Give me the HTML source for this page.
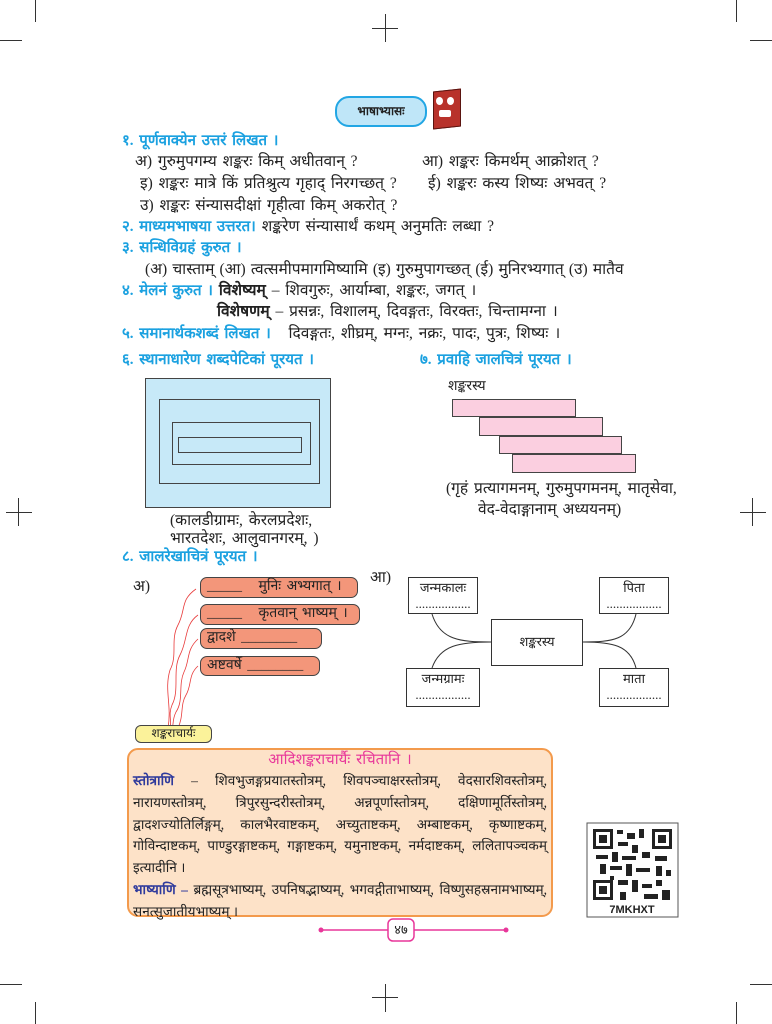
<!DOCTYPE html>
<html><head><meta charset="utf-8">
<style>
*{margin:0;padding:0;box-sizing:border-box}
body{width:772px;height:1024px;background:#fff;position:relative;overflow:hidden;font-family:"Liberation Serif","Noto Sans CJK SC",serif;color:#222;font-size:15.5px;word-spacing:2px}
.a{position:absolute;white-space:nowrap;line-height:1}
.h{color:#1ba1e0;font-weight:bold;font-size:15px}
.b{font-weight:bold}
.ln{position:absolute;background:#333}
.sal{position:absolute;background:#f3967a;border:1.5px solid #444;border-radius:7px;font-size:14px;padding-left:6px;line-height:18px}
.bx{position:absolute;border:1.5px solid #333;background:#fff;font-size:13px;text-align:center;word-spacing:0}
.j{text-align:justify;text-align-last:justify;white-space:nowrap;height:21.8px;line-height:21.8px}
</style></head><body>
<div class="ln" style="left:385px;top:14px;width:1px;height:28px"></div>
<div class="ln" style="left:372px;top:28px;width:26px;height:1px"></div>
<div class="ln" style="left:385px;top:984px;width:1px;height:28px"></div>
<div class="ln" style="left:372px;top:997px;width:26px;height:1px"></div>
<div class="ln" style="left:18px;top:498px;width:1px;height:28px"></div>
<div class="ln" style="left:6px;top:512px;width:26px;height:1px"></div>
<div class="ln" style="left:752px;top:498px;width:1px;height:28px"></div>
<div class="ln" style="left:740px;top:512px;width:26px;height:1px"></div>
<div class="ln" style="left:35px;top:0;width:1px;height:22px"></div>
<div class="ln" style="left:0;top:40px;width:22px;height:1px"></div>
<div class="ln" style="left:736px;top:0;width:1px;height:22px"></div>
<div class="ln" style="left:750px;top:40px;width:22px;height:1px"></div>
<div class="ln" style="left:35px;top:1002px;width:1px;height:22px"></div>
<div class="ln" style="left:0;top:984px;width:22px;height:1px"></div>
<div class="ln" style="left:736px;top:1002px;width:1px;height:22px"></div>
<div class="ln" style="left:750px;top:984px;width:22px;height:1px"></div>

<div class="a b" style="left:335px;top:96px;width:92px;height:31px;border:2px solid #22a6e4;background:#bfe6f8;border-radius:14px;font-size:12px;text-align:center;line-height:27px">भाषाभ्यासः</div>
<div style="position:absolute;left:433px;top:90px;width:28px;height:38px;background:#b8322b;border:1px solid #5a1410;transform:skewY(-6deg)"></div>
<div style="position:absolute;left:436px;top:97px;width:7px;height:8px;background:#fff;border-radius:50%"></div>
<div style="position:absolute;left:447px;top:97px;width:7px;height:8px;background:#fff;border-radius:50%"></div>
<div style="position:absolute;left:439px;top:110px;width:12px;height:7px;background:#fff;border-radius:2px"></div>

<div class="a h" style="left:122px;top:134px">१. पूर्णवाक्येन उत्तरं लिखत ।</div>
<div class="a" style="left:135px;top:154px">अ) गुरुमुपगम्य शङ्करः किम् अधीतवान् ?</div>
<div class="a" style="left:422px;top:154px">आ) शङ्करः किमर्थम् आक्रोशत् ?</div>
<div class="a" style="left:140px;top:176px">इ) शङ्करः मात्रे किं प्रतिश्रुत्य गृहाद् निरगच्छत् ?</div>
<div class="a" style="left:428px;top:176px">ई) शङ्करः कस्य शिष्यः अभवत् ?</div>
<div class="a" style="left:140px;top:198px">उ) शङ्करः संन्यासदीक्षां गृहीत्वा किम् अकरोत् ?</div>
<div class="a" style="left:122px;top:219px"><span class="h">२. माध्यमभाषया उत्तरत।</span> शङ्करेण संन्यासार्थं कथम् अनुमतिः लब्धा ?</div>
<div class="a h" style="left:122px;top:241px">३. सन्धिविग्रहं कुरुत ।</div>
<div class="a" style="left:145px;top:262px;word-spacing:1.3px">(अ) चास्ताम् (आ) त्वत्समीपमागमिष्यामि (इ) गुरुमुपागच्छत् (ई) मुनिरभ्यगात् (उ) मातैव</div>
<div class="a" style="left:122px;top:283px"><span class="h">४. मेलनं कुरुत ।</span> <b>विशेष्यम्</b> – शिवगुरुः, आर्याम्बा, शङ्करः, जगत् ।</div>
<div class="a" style="left:217px;top:304px"><b>विशेषणम्</b> – प्रसन्नः, विशालम्, दिवङ्गतः, विरक्तः, चिन्तामग्ना ।</div>
<div class="a" style="left:122px;top:326px"><span class="h">५. समानार्थकशब्दं लिखत ।</span> &nbsp; दिवङ्गतः, शीघ्रम्, मग्नः, नक्रः, पादः, पुत्रः, शिष्यः ।</div>

<div class="a h" style="left:122px;top:353px">६. स्थानाधारेण शब्दपेटिकां पूरयत ।</div>
<div class="a h" style="left:420px;top:353px">७. प्रवाहि जालचित्रं पूरयत ।</div>

<div style="position:absolute;left:145px;top:378px;width:186px;height:130px;background:#c7e9f8;border:1.5px solid #444"></div>
<div style="position:absolute;left:159px;top:399px;width:161px;height:85px;border:1.5px solid #444"></div>
<div style="position:absolute;left:172px;top:422px;width:139px;height:43px;border:1.5px solid #444"></div>
<div style="position:absolute;left:178px;top:437px;width:124px;height:16px;border:1.5px solid #444"></div>
<div class="a" style="left:170px;top:513px">(कालडीग्रामः, केरलप्रदेशः,</div>
<div class="a" style="left:170px;top:531px">भारतदेशः, आलुवानगरम्, )</div>

<div class="a" style="left:448px;top:380px;font-size:14px">शङ्करस्य</div>
<div style="position:absolute;left:452px;top:399px;width:124px;height:18px;background:#fbcfe0;border:1.5px solid #444"></div>
<div style="position:absolute;left:479px;top:417px;width:124px;height:19px;background:#fbcfe0;border:1.5px solid #444"></div>
<div style="position:absolute;left:499px;top:436px;width:123px;height:18px;background:#fbcfe0;border:1.5px solid #444"></div>
<div style="position:absolute;left:512px;top:454px;width:124px;height:19px;background:#fbcfe0;border:1.5px solid #444"></div>
<div class="a" style="left:446px;top:481px">(गृहं प्रत्यागमनम्, गुरुमुपगमनम्, मातृसेवा,</div>
<div class="a" style="left:478px;top:502px">वेद-वेदाङ्गानाम् अध्ययनम्)</div>

<div class="a h" style="left:122px;top:550px">८. जालरेखाचित्रं पूरयत ।</div>
<div class="a" style="left:133px;top:579px">अ)</div>
<div class="sal" style="left:200px;top:577px;width:158px;height:21px">_____ &nbsp; मुनिः अभ्यगात् ।</div>
<div class="sal" style="left:200px;top:604px;width:160px;height:21px">_____ &nbsp; कृतवान् भाष्यम् ।</div>
<div class="sal" style="left:200px;top:628px;width:122px;height:21px">द्वादशे ________</div>
<div class="sal" style="left:200px;top:656px;width:120px;height:20px">अष्टवर्षे ________</div>
<svg style="position:absolute;left:0;top:0" width="772" height="1024">
<g fill="none" stroke="#e83a3a" stroke-width="0.8">
<path d="M196 589 C180 600 186 610 178 625 C170 640 178 655 170 670 C164 690 172 705 168 728"/>
<path d="M198 615 C184 625 188 640 180 655 C172 670 180 690 172 705 C168 715 172 720 170 728"/>
<path d="M198 639 C186 650 190 660 184 672 C178 685 184 700 176 712 C172 720 174 724 172 728"/>
<path d="M198 666 C188 675 192 685 186 695 C180 705 184 715 178 728"/>
</g>
<g stroke="#333" stroke-width="1" fill="none">
<path d="M432 614 C440 640 460 642 491 642"/>
<path d="M432 668 C440 645 460 642 491 642"/>
<path d="M583 642 C612 642 630 640 636 614"/>
<path d="M583 642 C612 642 630 645 636 668"/>
</g>
<rect x="587" y="823" width="91" height="94" fill="#fff" stroke="#555"/>
<g fill="#222">
<rect x="593" y="829" width="20" height="20"/><rect x="596" y="832" width="14" height="14" fill="#fff"/><rect x="599" y="835" width="8" height="8"/>
<rect x="652" y="829" width="20" height="20"/><rect x="655" y="832" width="14" height="14" fill="#fff"/><rect x="658" y="835" width="8" height="8"/>
<rect x="593" y="880" width="20" height="20"/><rect x="596" y="883" width="14" height="14" fill="#fff"/><rect x="599" y="886" width="8" height="8"/>
<rect x="617" y="830" width="6" height="4"/><rect x="627" y="833" width="8" height="6"/><rect x="639" y="829" width="5" height="9"/><rect x="618" y="842" width="10" height="4"/>
<rect x="632" y="845" width="6" height="8"/><rect x="596" y="855" width="12" height="4"/><rect x="612" y="852" width="6" height="10"/><rect x="622" y="856" width="14" height="4"/>
<rect x="642" y="852" width="8" height="6"/><rect x="655" y="856" width="12" height="5"/><rect x="600" y="864" width="6" height="10"/><rect x="610" y="866" width="12" height="4"/>
<rect x="626" y="864" width="6" height="12"/><rect x="636" y="868" width="14" height="4"/><rect x="656" y="866" width="6" height="10"/><rect x="666" y="870" width="5" height="6"/>
<rect x="618" y="880" width="10" height="5"/><rect x="632" y="880" width="6" height="12"/><rect x="642" y="884" width="10" height="4"/><rect x="656" y="880" width="6" height="6"/>
<rect x="620" y="892" width="6" height="8"/><rect x="644" y="894" width="14" height="5"/><rect x="662" y="890" width="8" height="10"/><rect x="610" y="876" width="4" height="4"/>
</g>
<text x="632" y="913" font-family="Liberation Sans" font-weight="bold" font-size="11" text-anchor="middle" fill="#222">7MKHXT</text>
<line x1="321" y1="930" x2="506" y2="930" stroke="#e8379a" stroke-width="1.5"/>
<circle cx="321" cy="930" r="2.5" fill="#e8379a"/><circle cx="506" cy="930" r="2.5" fill="#e8379a"/>
<rect x="388" y="919" width="26" height="22" rx="5" fill="#fff" stroke="#e8379a" stroke-width="1.5"/>
</svg>
<div class="a" style="left:389px;top:923px;width:24px;text-align:center;font-size:13px">४७</div>

<div class="a" style="left:135px;top:725px;width:77px;height:18px;background:#fbf29a;border:1.5px solid #444;border-radius:6px;font-size:12px;text-align:center;line-height:15px;word-spacing:0">शङ्कराचार्यः</div>

<div class="a" style="left:370px;top:570px">आ)</div>
<div class="bx" style="left:408px;top:577px;width:70px;height:37px">जन्मकालः<br>.................</div>
<div class="bx" style="left:491px;top:619px;width:92px;height:47px;line-height:44px">शङ्करस्य</div>
<div class="bx" style="left:406px;top:668px;width:74px;height:39px">जन्मग्रामः<br>.................</div>
<div class="bx" style="left:599px;top:577px;width:70px;height:37px">पिता<br>.................</div>
<div class="bx" style="left:599px;top:668px;width:70px;height:39px">माता<br>.................</div>

<div style="position:absolute;left:127px;top:748px;width:426px;height:169px;background:#fde2c8;border:2px solid #f39a4c;border-radius:11px"></div>
<div class="a" style="left:127px;top:753px;width:426px;text-align:center;color:#e8379a;font-size:15px">आदिशङ्कराचार्यैः रचितानि ।</div>
<div style="position:absolute;left:133px;top:770px;width:414px;font-size:13.6px;word-spacing:0">
<div class="j"><b style="color:#2f3a9c">स्तोत्राणि</b> – शिवभुजङ्गप्रयातस्तोत्रम्, शिवपञ्चाक्षरस्तोत्रम्, वेदसारशिवस्तोत्रम्,</div>
<div class="j">नारायणस्तोत्रम्, त्रिपुरसुन्दरीस्तोत्रम्, अन्नपूर्णास्तोत्रम्, दक्षिणामूर्तिस्तोत्रम्,</div>
<div class="j">द्वादशज्योतिर्लिङ्गम्, कालभैरवाष्टकम्, अच्युताष्टकम्, अम्बाष्टकम्, कृष्णाष्टकम्,</div>
<div class="j">गोविन्दाष्टकम्, पाण्डुरङ्गाष्टकम्, गङ्गाष्टकम्, यमुनाष्टकम्, नर्मदाष्टकम्, ललितापञ्चकम्</div>
<div style="height:21.8px;line-height:21.8px">इत्यादीनि ।</div>
<div class="j"><b style="color:#2f3a9c">भाष्याणि –</b> ब्रह्मसूत्रभाष्यम्, उपनिषद्भाष्यम्, भगवद्गीताभाष्यम्, विष्णुसहस्रनामभाष्यम्,</div>
<div style="height:21.8px;line-height:21.8px">सनत्सुजातीयभाष्यम् ।</div>
</div>
</body></html>
